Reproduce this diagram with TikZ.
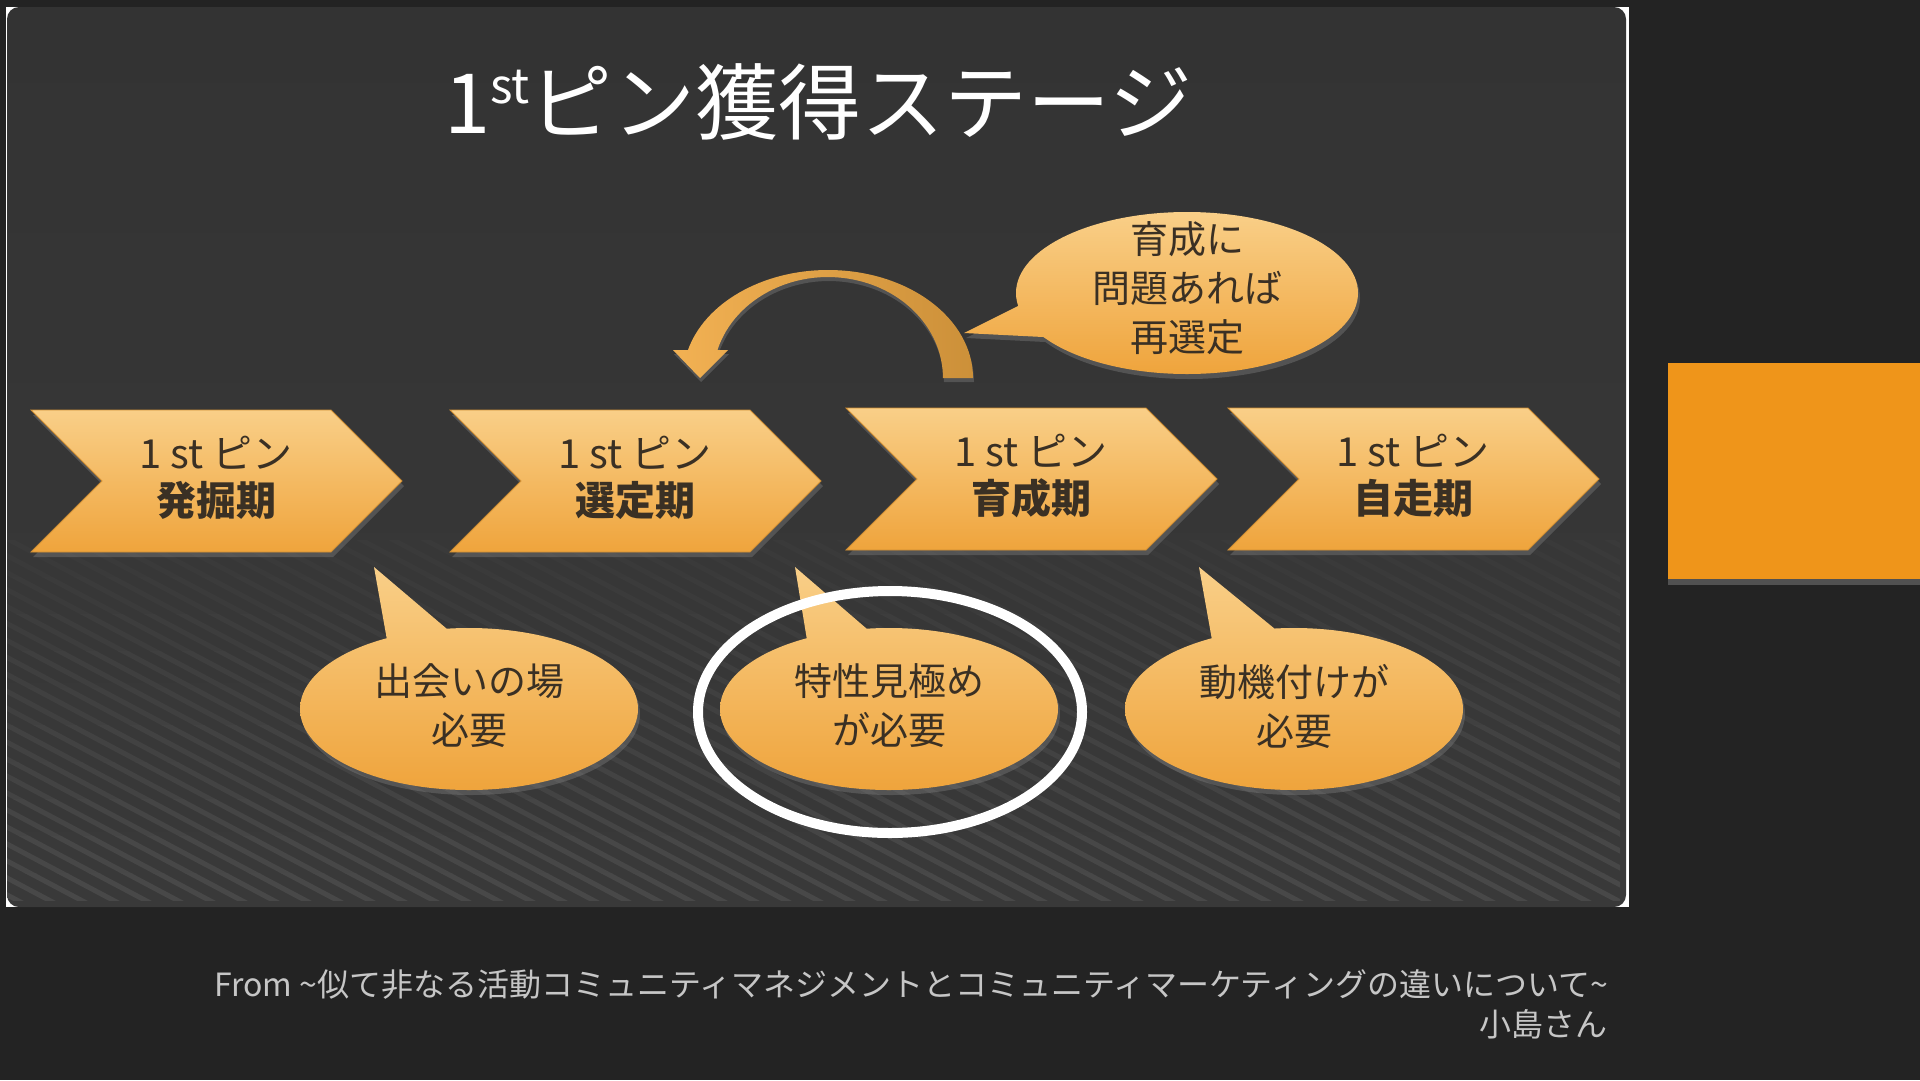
\documentclass[tikz,border=0pt]{standalone}
\usepackage{fontspec}
\setmainfont{Noto Sans CJK JP}
\usepackage{tikz}
\usetikzlibrary{shapes}
\usetikzlibrary{shadows}
\usepackage{xcolor}

\definecolor{outerbg}{HTML}{232323}
\definecolor{slidetop}{HTML}{333333}
\definecolor{slidebot}{HTML}{393939}
\definecolor{stripe}{HTML}{494949}
\definecolor{pinlight}{HTML}{F9CF88}
\definecolor{pindark}{HTML}{EFA43C}
\definecolor{pinedge}{HTML}{CF8E34}
\definecolor{pinink}{HTML}{3A3024}
\definecolor{arrowlight}{HTML}{F2B153}
\definecolor{arrowdark}{HTML}{CC9039}
\definecolor{sidebox}{HTML}{EF951A}
\definecolor{footgray}{HTML}{C6C6C6}

\begin{document}
\begin{tikzpicture}[x = 1pt, y = -1pt,
  pinshape/.style = {top color = pinlight, bottom color = pindark, draw = pinedge, line width = .8pt,
    drop shadow = {shadow xshift = 2pt, shadow yshift = -5pt, opacity = .4}},
  bubbleshape/.style = {top color = pinlight, bottom color = pindark,
    drop shadow = {shadow xshift = 2pt, shadow yshift = -5pt, opacity = .4}},
  pinlabel/.style = {text = pinink, align = center, inner sep = 0, font = \fontsize{40}{47}\selectfont},
  notelabel/.style = {text = pinink, align = center, inner sep = 0, font = \fontsize{38}{49}\selectfont}]
 \useasboundingbox (0, 0) rectangle (1920, 1080);
  \fill [outerbg] (0, 0) rectangle (1920, 1080);
  \fill [white] (6, 7) rectangle (1629, 907);
  \shade [top color = slidetop, bottom color = slidebot, rounded corners = 12pt] (7, 7) rectangle (1626, 907);
  \begin{scope}
   \clip (7, 540) rectangle (1620, 900);
   \foreach \b in {0,...,9} {
    \begin{scope}
     \clip (0, 540 + \b*37) rectangle (1630, 577 + \b*37);
     \pgfmathtruncatemacro\mix{5 + \b*10}
     \foreach \k in {0,...,74}
      \draw [stripe!\mix!slidebot, line width = 5pt] (-770 + \k*32, 500) -- ++(1400, 742);
    \end{scope}
   }
  \end{scope}
  \fill [sidebox, drop shadow = {shadow xshift = 0pt, shadow yshift = -6pt, opacity = .5}] (1668, 363) rectangle (1920, 579);
  \node (title) at (818, 102) [white, inner sep = 0, font = \fontsize{83}{90}\selectfont]
   {1\raisebox{.36em}{\fontsize{48}{48}\selectfont st}ピン獲得ステージ};
  \shade [left color = arrowlight, right color = arrowdark, drop shadow = {shadow xshift = 1pt, shadow yshift = -4pt, opacity = .4}]
   (973, 378) arc [start angle = 0, end angle = -165, x radius = 145, y radius = 108]
   -- (673, 350) -- (700, 378) -- (728, 350) -- (717.4, 350.2)
   arc [start angle = -164, end angle = 0, x radius = 115, y radius = 101] -- cycle;
  \shade [pinshape] (31, 410) -- (331, 410) -- (402, 481) -- (331, 552) -- (31, 552) -- (102, 481) -- cycle;
  \shade [pinshape] (450, 410) -- (750, 410) -- (821, 481) -- (750, 552) -- (450, 552) -- (521, 481) -- cycle;
  \shade [pinshape] (846, 408) -- (1146, 408) -- (1217, 479) -- (1146, 550) -- (846, 550) -- (917, 479) -- cycle;
  \shade [pinshape] (1228, 408) -- (1528, 408) -- (1599, 479) -- (1528, 550) -- (1228, 550) -- (1299, 479) -- cycle;
  \node (hakkutsu) at (216, 478) [pinlabel] {1 st ピン\\\textbf{発掘期}};
  \node (sentei) at (635, 478) [pinlabel] {1 st ピン\\\textbf{選定期}};
  \node (ikusei) at (1031, 476) [pinlabel] {1 st ピン\\\textbf{育成期}};
  \node (jisou) at (1413, 476) [pinlabel] {1 st ピン\\\textbf{自走期}};
  \shade [bubbleshape] (1187, 293) ellipse [x radius = 171, y radius = 81] (1043, 337) -- (964, 333) -- (1018, 306) -- cycle;
  \shade [bubbleshape] (469, 709) ellipse [x radius = 169, y radius = 81] (387, 640) -- (374, 567) -- (447, 629) -- cycle;
  \shade [bubbleshape] (889, 709) ellipse [x radius = 169, y radius = 81] (807, 640) -- (795, 567) -- (867, 629) -- cycle;
  \shade [bubbleshape] (1294, 709) ellipse [x radius = 169, y radius = 81] (1212, 640) -- (1199, 567) -- (1275, 629) -- cycle;
  \node (saisentei) at (1187, 288) [notelabel] {育成に\\問題あれば\\再選定};
  \node (deai) at (469, 706) [notelabel] {出会いの場\\必要};
  \node (tokusei) at (889, 706) [notelabel] {特性見極め\\が必要};
  \node (douki) at (1294, 706) [notelabel] {動機付けが\\必要};
  \draw [white, line width = 10pt] (890, 712) ellipse [x radius = 192, y radius = 121];
  \node (source) at (1608, 984) [anchor = east, footgray, inner sep = 0, font = \fontsize{32}{36}\selectfont]
   {From \textasciitilde 似て非なる活動コミュニティマネジメントとコミュニティマーケティングの違いについて\textasciitilde};
  \node (speaker) at (1608, 1024) [anchor = east, footgray, inner sep = 0, font = \fontsize{32}{36}\selectfont] {小島さん};
 \end{tikzpicture}
\end{document}
